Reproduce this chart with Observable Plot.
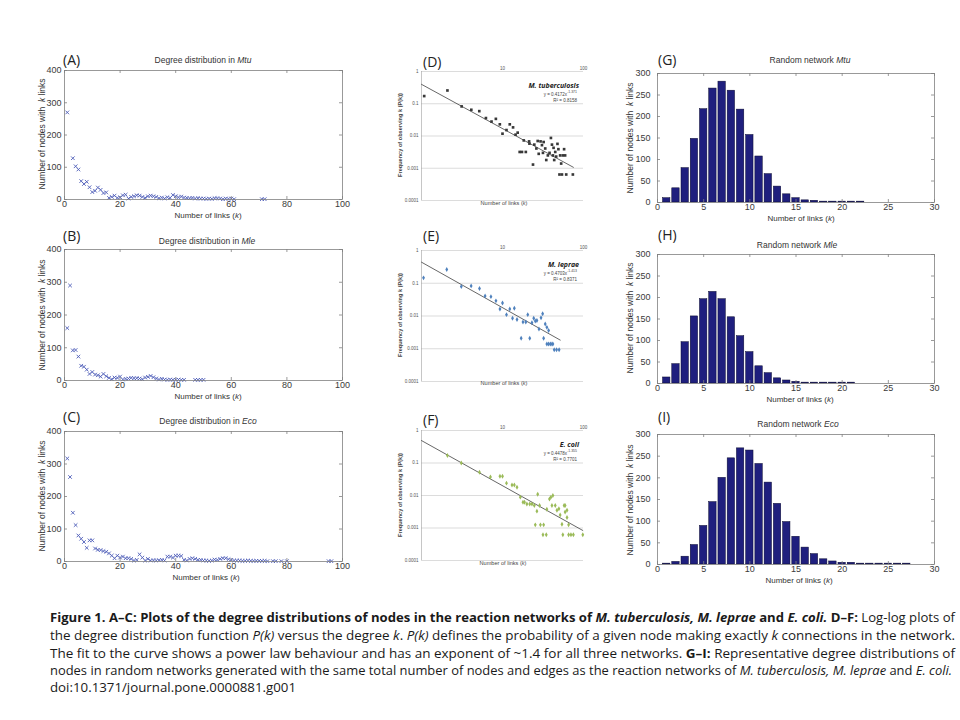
<!DOCTYPE html>
<html><head><meta charset="utf-8">
<script src="https://cdn.jsdelivr.net/npm/d3@7"></script>
<script src="https://cdn.jsdelivr.net/npm/@observablehq/plot@0.6"></script>
<style>
body{margin:0;background:#fff;}
#fig{position:relative;width:960px;height:720px;overflow:hidden;background:#fff;font-family:"Liberation Sans",Arial,sans-serif;}
.lab{position:absolute;white-space:nowrap;line-height:1;color:#333;}
</style></head><body><div id="fig"></div>
<script>
// ---------- A–C: observed degree distributions ----------
const kMtu = [1,3,4,5,6,7,8,9,10,11,12,13,14,15,16,17,18,19,20,21,22,23,24,25,26,27,28,29,30,31,32,33,34,35,36,37,38,39,40,41,42,43,44,45,46,47,48,49,50,51,52,53,54,55,56,57,58,59,60,61,71,72];
const nMtu = [270,128,103,93,57,48,55,38,23,27,37,30,20,22,5,8,12,5,7,13,15,3,8,10,13,12,8,5,10,12,10,8,4,6,3,7,5,14,10,7,9,6,5,4,5,3,4,3,3,2,3,2,4,4,3,1,3,2,3,1,1,1];
const kMle = [1,2,3,4,5,6,7,8,9,10,11,12,13,14,15,16,17,18,19,20,21,22,23,24,25,26,27,28,29,30,31,32,33,34,35,36,37,38,39,40,41,42,43,47,48,49,50];
const nMle = [160,290,92,93,73,45,42,33,20,26,18,16,12,20,13,8,4,9,8,12,3,5,6,8,7,7,6,4,9,11,14,10,6,3,5,3,2,3,2,2,3,2,2,2,2,2,2];
const kEco = [1,2,3,4,5,6,7,8,9,10,11,12,13,14,15,16,17,18,19,20,21,22,23,24,25,26,27,28,29,30,31,32,33,34,35,36,37,38,39,40,41,42,43,44,45,46,47,48,49,50,51,52,53,54,55,56,57,58,59,60,61,62,63,64,65,66,67,68,69,70,71,72,73,75,76,78,80,95,96];
const nEco = [317,260,150,112,80,70,60,42,65,65,40,36,35,32,30,25,18,10,18,12,15,10,10,8,3,5,22,12,3,8,3,4,3,4,5,3,15,15,12,18,18,17,5,3,8,10,8,5,5,3,3,2,3,6,5,8,10,10,7,5,3,3,3,2,2,3,2,2,2,2,2,2,1,1,1,1,1,1,1];

// ---------- D–F: log-log P(k) ----------
const kLogMtu = [1.08,2.09,3.13,4.12,5.17,6.24,7.32,8.28,9.27,10,11.2,12.3,13.5,14.5,15.4,18.3,16.3,17.4,19.4,21.3,21.5,23.8,24.7,26.2,27.2,28.0,29.5,30.7,31.6,32.2,33.7,34.7,36.3,38.1,39.6,40.8,41.9,42.7,43.5,44.8,46.0,47.7,49.0,51.5,53.0,55.6,57.6,59.3,50.5,54.2,61.2,73.9];
const pLogMtu = [0.173,0.258,0.0827,0.065,0.059,0.036,0.028,0.034,0.023,0.0118,0.0153,0.023,0.0185,0.011,0.0127,0.0073,0.0032,0.0032,0.0032,0.0068,0.0058,0.0013,0.0054,0.0041,0.0070,0.0028,0.0068,0.0052,0.0030,0.0065,0.0041,0.0018,0.0025,0.0030,0.0087,0.0054,0.0025,0.0043,0.0018,0.0032,0.0023,0.0057,0.0039,0.0025,0.0014,0.0025,0.0039,0.0025,0.00064,0.00064,0.00064,0.00064];
const kLogMle = [1.06,2.05,3.1,4.1,5.2,6.1,7.2,8.3,9.3,10,11.2,12.3,13.3,14.0,15.1,17.0,17.9,19.4,20.5,21.7,23.1,24.3,25.4,26.6,28.2,29.9,31.3,32.2,33.7,35.3,37.1,35.3,37.1,39.0,40.8,41.9,43.5,46.5,50.0];
const pLogMle = [0.146,0.262,0.079,0.083,0.069,0.041,0.039,0.029,0.0164,0.025,0.011,0.0164,0.0085,0.0173,0.0078,0.0021,0.0066,0.0066,0.011,0.0021,0.0062,0.0085,0.0070,0.0073,0.0040,0.0088,0.0117,0.0021,0.0057,0.0045,0.0036,0.0014,0.0014,0.0014,0.0014,0.0014,0.00093,0.00093,0.00093];
const kLogEco = [2.09,3.1,5.2,7.1,9.3,10,11.2,13.1,14,15.1,16.6,17.9,18.7,20,21.7,23.1,24.7,26.6,27.2,28.7,25.4,29.4,32.2,31.6,34.7,35.3,38,39.6,41.9,40.8,44.8,47,49.7,51.5,54.2,55.6,57.6,59.3,59.3,62.6,62.6,65.5,65.5,70,75,98];
const pLogEco = [0.17,0.1,0.052,0.037,0.039,0.039,0.024,0.021,0.021,0.018,0.0089,0.0062,0.0062,0.0055,0.0055,0.0055,0.0049,0.0033,0.011,0.0049,0.00125,0.00125,0.00125,0.00062,0.00062,0.0038,0.0078,0.0089,0.01,0.0049,0.0049,0.0035,0.0039,0.0025,0.0013,0.00062,0.0049,0.0049,0.0031,0.0035,0.0021,0.00125,0.00062,0.00062,0.00062,0.00062];
// power-law trend line end points
const trendKMtu = [1, 75];  const trendPMtu = [0.40, 0.00107];
const trendKMle = [1, 51.6]; const trendPMle = [0.44, 0.00184];
const trendKEco = [1, 98];  const trendPEco = [0.49, 0.00084];
const logTicksP = [1, 0.1, 0.01, 0.001, 0.0001];
const logTickLabelsP = ["1", "0.1", "0.01", "0.001", "0.0001"];
const logTicksK = [10, 100];

// ---------- G–I: random networks ----------
const kRandMtu = [1,2,3,4,5,6,7,8,9,10,11,12,13,14,15,16,17,18,19,20,21,22];
const nRandMtu = [10,33,80,148,217,265,281,260,216,157,107,66,37,19,10,5,4,2,2,2,2,2];
const kRandMle = [1,2,3,4,5,6,7,8,9,10,11,12,13,14,15,16,17,18,19,20,21];
const nRandMle = [14,45,96,156,196,213,196,154,110,73,40,24,12,7,4,2,2,2,2,2,2];
const kRandEco = [1,2,3,4,5,6,7,8,9,10,11,12,13,14,15,16,17,18,19,20,21,22,23,24,25,26,27];
const nRandEco = [2,6,18,45,89,144,200,245,268,263,232,189,140,98,64,39,24,12,7,4,4,2,2,2,2,2,2];

const ticksK100 = [0,20,40,60,80,100];
const ticksN400 = [0,100,200,300,400];
const ticksK30 = [0,5,10,15,20,25,30];
const ticksN300 = [0,50,100,150,200,250,300];

const captionLines = [
  [["Figure 1. A–C: Plots of the degree distributions of nodes in the reaction networks of ","b"],["M. tuberculosis, M. leprae","bi"],[" and ","b"],["E. coli.","bi"],[" D–F:","b"],[" Log-log plots of",""]],
  [["the degree distribution function ",""],["P(k)","i"],[" versus the degree ",""],["k","i"],[". ",""],["P(k)","i"],[" defines the probability of a given node making exactly ",""],["k","i"],[" connections in the network.",""]],
  [["The fit to the curve shows a power law behaviour and has an exponent of ~1.4 for all three networks. ",""],["G–I:","b"],[" Representative degree distributions of",""]],
  [["nodes in random networks generated with the same total number of nodes and edges as the reaction networks of ",""],["M. tuberculosis, M. leprae","i"],[" and ",""],["E. coli.","i"]],
  [["doi:10.1371/journal.pone.0000881.g001",""]]
];

// ---------- helpers ----------
const fig = document.getElementById("fig");
const zip = (ks, vs, name) => ks.map((k, i) => ({k, [name]: vs[i]}));

function panel([x0,y0,x1,y1], [pl,pt,pr,pb], opts) {
  const svg = Plot.plot({
    width: x1-x0+pl+pr, height: y1-y0+pt+pb,
    marginLeft: pl, marginTop: pt, marginRight: pr, marginBottom: pb,
    ...opts
  });
  svg.style.position = "absolute";
  svg.style.left = (x0-pl) + "px";
  svg.style.top = (y0-pt) + "px";
  svg.style.maxWidth = "none";
  svg.style.overflow = "visible";
  fig.appendChild(svg);
}

function txt(html, x, y, o = {}) {
  const {size=8, anchor="middle", rotate=0, weight=400, italic=false, family='"Liberation Sans",Arial,sans-serif', color="#333", sx=1} = o;
  const d = document.createElement("div");
  d.className = "lab";
  d.innerHTML = html;
  d.style.left = x + "px"; d.style.top = y + "px";
  d.style.fontSize = size + "px"; d.style.fontWeight = weight;
  d.style.fontStyle = italic ? "italic" : "normal";
  d.style.fontFamily = family; d.style.color = color;
  const tx = anchor === "start" ? "0" : anchor === "end" ? "-100%" : "-50%";
  d.style.transformOrigin = anchor === "start" ? "left center" : anchor === "end" ? "right center" : "center";
  d.style.transform = `translate(${tx},-50%) rotate(${rotate}deg) scaleX(${sx})`;
  fig.appendChild(d);
}

// inward tick marks (Matlab box style) drawn as short rules through the scales
function inwardTicks(rect, xDom, xTicks, yDom, yTicks, len = 3) {
  const dy = (yDom[1] - yDom[0]) * len / (rect[3] - rect[1]);
  const dx = (xDom[1] - xDom[0]) * len / (rect[2] - rect[0]);
  const st = {stroke: "#808080", strokeWidth: 0.8};
  return [
    Plot.ruleX(xTicks, {y1: yDom[0], y2: yDom[0] + dy, ...st}),
    Plot.ruleX(xTicks, {y1: yDom[1], y2: yDom[1] - dy, ...st}),
    Plot.ruleY(yTicks, {x1: xDom[0], x2: xDom[0] + dx, ...st}),
    Plot.ruleY(yTicks, {x1: xDom[1], x2: xDom[1] - dx, ...st})
  ];
}

function matlabPanel(rect, xDom, xTicks, yDom, yTicks, mark, yPad) {
  panel(rect, [32, 6, 8, 14], {
    x: {domain: xDom}, y: {domain: yDom},
    style: {fontFamily: '"Liberation Sans",Arial,sans-serif', fontSize: "9px", color: "#3a3a3a", background: "transparent"},
    marks: [
      mark,
      ...inwardTicks(rect, xDom, xTicks, yDom, yTicks),
      Plot.frame({stroke: "#808080", strokeWidth: 0.8}),
      Plot.axisX({ticks: xTicks, tickSize: 0, tickPadding: 1.5, label: null}),
      Plot.axisY({ticks: yTicks, tickSize: 0, tickPadding: yPad, label: null})
    ]
  });
}

function excelPanel(rect, ks, ps, tk, tp, color, symbol) {
  panel(rect, [24, 10, 6, 6], {
    x: {type: "log", domain: [1, 100]},
    y: {type: "log", domain: [0.0001, 1]},
    style: {fontFamily: '"Liberation Sans",Arial,sans-serif', fontSize: "4.5px", color: "#555", background: "transparent"},
    marks: [
      Plot.ruleY(logTicksP, {stroke: "#c4c4c4", strokeWidth: 0.6}),
      Plot.ruleX([1], {stroke: "#a0a0a0", strokeWidth: 0.6}),
      Plot.axisY({ticks: logTicksP, tickSize: 0, tickPadding: 3, label: null, tickFormat: d => logTickLabelsP[logTicksP.indexOf(d)]}),
      Plot.axisX({anchor: "top", ticks: logTicksK, tickSize: 0, tickPadding: 2, label: null, tickFormat: d => String(d)}),
      Plot.line(zip(tk, tp, "p"), {x: "k", y: "p", stroke: "#404040", strokeWidth: 0.8}),
      Plot.dot(zip(ks, ps, "p"), {x: "k", y: "p", symbol, r: 1.5, fill: color, stroke: null})
    ]
  });
}

const blue = "#4d5cb8";
const dotMark = (ks, ns) => Plot.dot(zip(ks, ns, "n"), {x: "k", y: "n", symbol: "times", r: 1.8, stroke: blue, strokeWidth: 0.9});
const barMark = (ks, ns) => Plot.rectY(zip(ks, ns, "n"), {x1: d => d.k - 0.4, x2: d => d.k + 0.4, y1: 0, y2: "n", fill: "#1f1f7e", stroke: "#0a0a30", strokeWidth: 0.5});

// ---------- A–C ----------
const rectA = [64, 70, 342, 199], rectB = [64, 249, 342, 380], rectC = [64, 431, 342, 561];
matlabPanel(rectA, [0,100], ticksK100, [0,400], ticksN400, dotMark(kMtu, nMtu), 3);
matlabPanel(rectB, [0,100], ticksK100, [0,400], ticksN400, dotMark(kMle, nMle), 3);
matlabPanel(rectC, [0,100], ticksK100, [0,400], ticksN400, dotMark(kEco, nEco), 3);

// ---------- G–I ----------
const rectG = [657, 73, 934, 202], rectH = [657, 254, 934, 383], rectI = [657, 434, 934, 564];
matlabPanel(rectG, [0,30], ticksK30, [0,300], ticksN300, barMark(kRandMtu, nRandMtu), 7);
matlabPanel(rectH, [0,30], ticksK30, [0,300], ticksN300, barMark(kRandMle, nRandMle), 7);
matlabPanel(rectI, [0,30], ticksK30, [0,300], ticksN300, barMark(kRandEco, nRandEco), 7);

// ---------- D–F ----------
const rectD = [421, 71, 583, 200], rectE = [421, 250, 583, 381], rectF = [421, 430, 583, 560];
excelPanel(rectD, kLogMtu, pLogMtu, trendKMtu, trendPMtu, "#383838", "square");
excelPanel(rectE, kLogMle, pLogMle, trendKMle, trendPMle, "#4f81bd", "diamond");
excelPanel(rectF, kLogEco, pLogEco, trendKEco, trendPEco, "#9bbb59", "diamond");

// ---------- text overlays ----------
const panelFont = '"Open Sans","Liberation Sans",sans-serif';
[["(A)",63,60],["(B)",63,236],["(C)",63,417],["(D)",423,62],["(E)",423,236],["(F)",423,420],["(G)",658,60],["(H)",658,235],["(I)",658,417]]
  .forEach(([t,x,y]) => txt(t, x, y, {size: 14, anchor: "start", family: panelFont, color: "#222"}));

txt("Degree distribution in <i>Mtu</i>", 203, 60, {size: 8.5});
txt("Degree distribution in <i>Mle</i>", 207, 241, {size: 8.5});
txt("Degree distribution in <i>Eco</i>", 208, 421, {size: 8.5});
txt("Random network <i>Mtu</i>", 810, 60, {size: 8.5});
txt("Random network <i>Mle</i>", 797, 245, {size: 8.5});
txt("Random network <i>Eco</i>", 798, 424, {size: 8.5});

[[208,216],[208,397],[206,578],[801,219],[800,400],[799,581]]
  .forEach(([x,y]) => txt("Number of links (<i>k</i>)", x, y, {size: 8}));
[[42,134],[42,315],[42,496],[630,138],[630,318],[630,500]]
  .forEach(([x,y]) => txt("Number of nodes with &nbsp;<i>k</i> links", x, y, {size: 8.5, rotate: -90}));

// Excel panel labels
[[401,135],[401,315],[401,495]].forEach(([x,y]) => txt("Frequency of observing k (P(k))", x, y, {size: 5.6, rotate: -90, weight: 700, color: "#444"}));
[[504,204],[504,384],[503,564]].forEach(([x,y]) => txt("Number of links (<i>k</i>)", x, y, {size: 5.6, color: "#444"}));
const species = [["M. tuberculosis",85,"0.4172","1.371","0.8158"],["M. leprae",264,"0.4703","1.413","0.8371"],["E. coli",444,"0.4478","1.355","0.7701"]];
species.forEach(([name, y, a, b, r2]) => {
  txt(name, 579, y, {size: 7, anchor: "end", weight: 700, italic: true, color: "#222", family: panelFont});
  txt(`y = ${a}x<sup style="font-size:3.5px">-${b}</sup>`, 577, y + 9, {size: 4.5, anchor: "end", color: "#444"});
  txt(`R² = ${r2}`, 577, y + 15.5, {size: 4.5, anchor: "end", color: "#444"});
});

// ---------- caption ----------
const NS = "http://www.w3.org/2000/svg";
const cap = document.createElementNS(NS, "svg");
cap.setAttribute("width", 960); cap.setAttribute("height", 110);
cap.style.position = "absolute"; cap.style.left = "0px"; cap.style.top = "600px";
const baselines = [21.5, 39.5, 57.5, 74.5, 92];
const lengths = [905, 905, 905, 902, 246];
captionLines.forEach((segs, li) => {
  const t = document.createElementNS(NS, "text");
  t.setAttribute("x", 50); t.setAttribute("y", baselines[li]);
  t.setAttribute("textLength", lengths[li]);
  t.setAttribute("lengthAdjust", "spacingAndGlyphs");
  t.setAttribute("font-family", '"Open Sans","Liberation Sans",sans-serif');
  t.setAttribute("font-size", 13);
  t.setAttribute("fill", "#1a1a1a");
  t.style.whiteSpace = "pre";
  segs.forEach(([s, st]) => {
    const ts = document.createElementNS(NS, "tspan");
    ts.textContent = s;
    if (st.includes("b")) ts.setAttribute("font-weight", 700);
    if (st.includes("i")) ts.setAttribute("font-style", "italic");
    t.appendChild(ts);
  });
  cap.appendChild(t);
});
fig.appendChild(cap);
</script></body></html>
